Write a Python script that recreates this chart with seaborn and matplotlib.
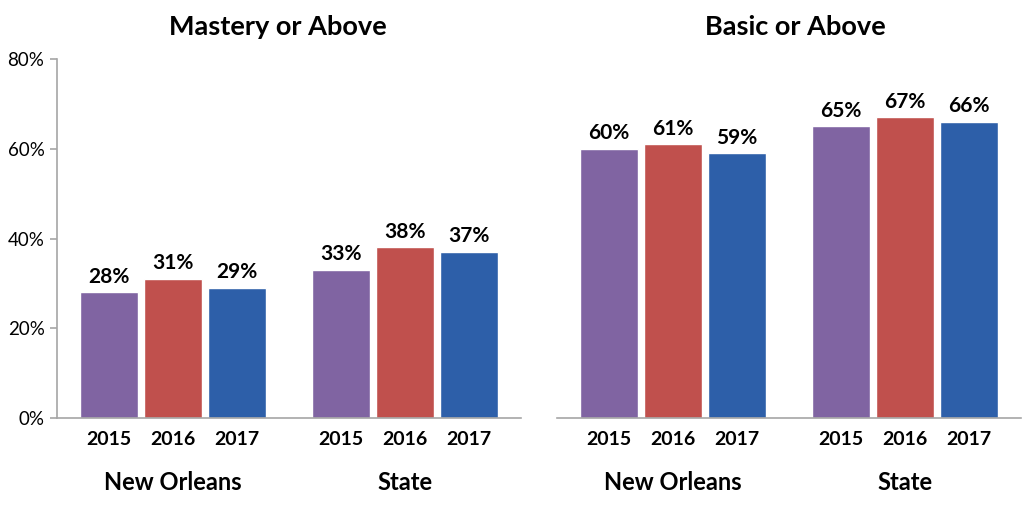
import matplotlib
matplotlib.use("Agg")
import matplotlib.pyplot as plt
import seaborn as sns
import pandas as pd
import matplotlib.transforms as mtrans

groups = ["New Orleans", "State"]
years = ["2015", "2016", "2017"]
mastery_no = [28, 31, 29]
mastery_state = [33, 38, 37]
basic_no = [60, 61, 59]
basic_state = [65, 67, 66]
panel_titles = ["Mastery or Above", "Basic or Above"]
y_ticks = [0, 20, 40, 60, 80]
colors = ["#8064A2", "#C0504D", "#2D5FA9"]

sns.set_theme(style="white")
plt.rcParams["font.family"] = ["Lato", "DejaVu Sans"]
plt.rcParams["text.color"] = "black"

def make_df(no_vals, st_vals):
    rows = []
    for g, vals in zip(groups, [no_vals, st_vals]):
        for y, v in zip(years, vals):
            rows.append({"group": g, "year": y, "value": v})
    return pd.DataFrame(rows)

fig = plt.figure(figsize=(10.24, 5.11), dpi=100)
ax1 = fig.add_axes([57/1024, 93/511, 464/1024, 359/511])
ax2 = fig.add_axes([557/1024, 93/511, 464/1024, 359/511])

for ax, (nv, sv), title, tx in zip([ax1, ax2], [(mastery_no, mastery_state), (basic_no, basic_state)],
                                   panel_titles, [278/1024, 795/1024]):
    df = make_df(nv, sv)
    sns.barplot(data=df, x="group", y="value", hue="year", order=groups, hue_order=years,
                palette=colors, width=0.83, gap=0.1, ax=ax, legend=False, saturation=1)
    ax.set_ylim(0, 80)
    ax.set_xlim(-0.5, 1.5)
    centers = []
    for cont in ax.containers:
        ax.bar_label(cont, labels=[f"{int(round(v))}%" for v in cont.datavalues],
                     padding=4, fontsize=15, fontweight="bold", color="black")
    for p in ax.patches:
        centers.append(p.get_x() + p.get_width() / 2)
    centers = sorted(centers)
    ax.set_xticks(centers)
    ax.set_xticklabels(years * len(groups), fontsize=14, fontweight="bold", color="black")
    ax.tick_params(axis="x", length=0, pad=9)
    ax.set_xlabel("")
    ax.set_ylabel("")
    trans = mtrans.blended_transform_factory(ax.transData, ax.transAxes)
    for i, g in enumerate(groups):
        ax.text(i, -0.18, g, transform=trans, ha="center", va="center",
                fontsize=17, fontweight="bold", color="black")
    for s in ["top", "right"]:
        ax.spines[s].set_visible(False)
    ax.spines["bottom"].set_color("#A6A6A6")
    ax.spines["bottom"].set_linewidth(1.2)
    fig.text(tx, 1 - 27/511, title, ha="center", va="center", fontsize=19.5,
             fontweight="bold", color="black")

ax1.spines["left"].set_color("#A6A6A6")
ax1.spines["left"].set_linewidth(1.2)
ax1.set_yticks(y_ticks)
ax1.set_yticklabels([f"{t}%" for t in y_ticks], fontsize=13.5, color="black")
ax1.tick_params(axis="y", length=5, color="#A6A6A6", width=1.2, left=True, pad=4)

ax2.spines["left"].set_visible(False)
ax2.set_yticks([])

fig.savefig("out.png", dpi=100, facecolor="white")
